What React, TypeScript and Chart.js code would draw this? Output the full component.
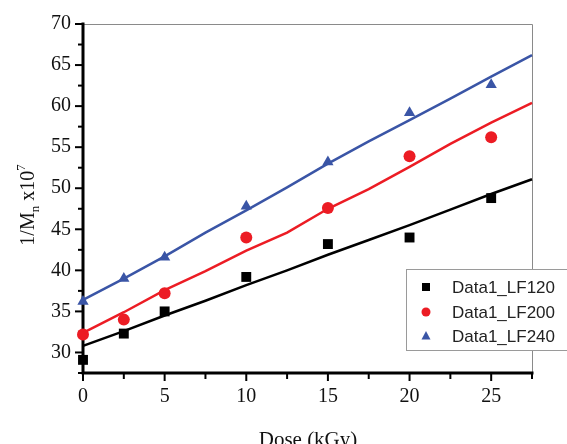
import React, { useEffect, useRef } from "react";
import { Chart, registerables } from "chart.js";
Chart.register(...registerables);

const doses = [0, 2.5, 5, 10, 15, 20, 25];
const lf120 = [29.1, 32.3, 35.0, 39.2, 43.2, 44.0, 48.8];
const lf200 = [32.2, 34.0, 37.2, 44.0, 47.6, 53.9, 56.2];
const lf240 = [36.2, 39.0, 41.6, 47.8, 53.2, 59.2, 62.6];

const fitX = [0, 2.5, 5, 7.5, 10, 12.5, 15, 17.5, 20, 22.5, 25, 27.5];
const fit120 = [30.8, 32.6, 34.5, 36.3, 38.2, 40.0, 41.9, 43.7, 45.5, 47.4, 49.3, 51.1];
const fit200 = [32.4, 34.9, 37.6, 39.9, 42.4, 44.6, 47.5, 49.9, 52.6, 55.4, 58.0, 60.4];
const fit240 = [36.4, 39.0, 41.7, 44.6, 47.3, 50.1, 53.0, 55.7, 58.3, 60.9, 63.6, 66.2];

const seriesNames = ["Data1_LF120", "Data1_LF200", "Data1_LF240"];
const seriesColors = ["#000000", "#ec1c24", "#3a55a6"];
const seriesStyles = ["rect", "circle", "triangle"];

const xTitle = "Dose (kGy)";
const yTickLabels = [30, 35, 40, 45, 50, 55, 60, 65, 70];
const xTickLabels = [0, 5, 10, 15, 20, 25];

const pts = (xs: number[], ys: number[]) => xs.map((x, i) => ({ x, y: ys[i] }));

const isMajor = (v: number) => Math.abs(v / 5 - Math.round(v / 5)) < 1e-6;

const decorPlugin = {
  id: "decor",
  beforeDatasetsDraw(chart: any) {
    const { ctx, chartArea, scales } = chart;
    const xs = scales.x;
    const ys = scales.y;
    ctx.save();
    ctx.strokeStyle = "#8a8a8a";
    ctx.lineWidth = 1;
    ctx.beginPath();
    ctx.moveTo(chartArea.left, chartArea.top + 0.5);
    ctx.lineTo(chartArea.right + 0.5, chartArea.top + 0.5);
    ctx.lineTo(chartArea.right + 0.5, chartArea.bottom);
    ctx.stroke();
    ctx.strokeStyle = "#000";
    ctx.lineWidth = 3;
    ctx.lineCap = "square";
    ctx.beginPath();
    ctx.moveTo(chartArea.left, chartArea.top);
    ctx.lineTo(chartArea.left, chartArea.bottom);
    ctx.lineTo(chartArea.right, chartArea.bottom);
    ctx.stroke();
    ctx.lineCap = "butt";
    ctx.lineWidth = 2;
    ys.ticks.forEach((t: any) => {
      const p = ys.getPixelForValue(t.value);
      const len = isMajor(t.value) ? 8 : 5;
      ctx.beginPath();
      ctx.moveTo(chartArea.left - len, p);
      ctx.lineTo(chartArea.left, p);
      ctx.stroke();
    });
    xs.ticks.forEach((t: any) => {
      const p = xs.getPixelForValue(t.value);
      const len = isMajor(t.value) ? 8 : 6;
      ctx.beginPath();
      ctx.moveTo(p, chartArea.bottom);
      ctx.lineTo(p, chartArea.bottom + len);
      ctx.stroke();
    });
    ctx.restore();
  },
  afterDraw(chart: any) {
    const { ctx } = chart;
    ctx.save();
    ctx.fillStyle = "#111";
    ctx.font = "21px 'Liberation Serif', 'Times New Roman', serif";
    ctx.textAlign = "center";
    ctx.textBaseline = "alphabetic";
    ctx.fillText(xTitle, 308, 446);
    ctx.translate(34, 205);
    ctx.rotate(-Math.PI / 2);
    const big = "20px 'Liberation Serif', 'Times New Roman', serif";
    const small = "13px 'Liberation Serif', 'Times New Roman', serif";
    const parts = [
      { t: "1/M", f: big, dy: 0 },
      { t: "n", f: small, dy: 5 },
      { t: " x10", f: big, dy: 0 },
      { t: "7", f: small, dy: -9 },
    ];
    let total = 0;
    parts.forEach((p) => {
      ctx.font = p.f;
      total += ctx.measureText(p.t).width;
    });
    let x = -total / 2;
    ctx.textAlign = "left";
    parts.forEach((p) => {
      ctx.font = p.f;
      ctx.fillText(p.t, x, p.dy);
      x += ctx.measureText(p.t).width;
    });
    ctx.restore();

    ctx.save();
    const lx = 406.5, ly = 269.5, lw = 200, lh = 81;
    ctx.fillStyle = "#fff";
    ctx.fillRect(lx, ly, lw, lh);
    ctx.strokeStyle = "#9a9a9a";
    ctx.lineWidth = 1;
    ctx.strokeRect(lx, ly, lw, lh);
    const rows = [287, 312, 336];
    ctx.font = "17px 'Liberation Sans', Arial, sans-serif";
    ctx.textBaseline = "middle";
    ctx.textAlign = "left";
    seriesNames.forEach((name, i) => {
      const cy = rows[i];
      const cx = 426;
      ctx.fillStyle = seriesColors[i];
      ctx.beginPath();
      if (seriesStyles[i] === "rect") {
        ctx.rect(cx - 4, cy - 4, 8, 8);
      } else if (seriesStyles[i] === "circle") {
        ctx.arc(cx, cy, 4.5, 0, Math.PI * 2);
      } else {
        ctx.moveTo(cx, cy - 5);
        ctx.lineTo(cx + 4.5, cy + 3.5);
        ctx.lineTo(cx - 4.5, cy + 3.5);
        ctx.closePath();
      }
      ctx.fill();
      ctx.fillStyle = "#222";
      ctx.fillText(name, 452, cy + 1);
    });
    ctx.restore();
  },
};

export default function App() {
  const ref = useRef<HTMLCanvasElement | null>(null);
  useEffect(() => {
    if (!ref.current) return;
    const tickFont = { family: "'Liberation Serif', 'Times New Roman', serif", size: 20 };
    const datasets: any[] = [];
    const fits = [fit120, fit200, fit240];
    const vals = [lf120, lf200, lf240];
    const radii = [7, 6, 6.5];
    fits.forEach((f, i) => {
      datasets.push({
        type: "line",
        label: seriesNames[i] + " fit",
        data: pts(fitX, f),
        borderColor: seriesColors[i],
        borderWidth: 2.5,
        pointRadius: 0,
        fill: false,
        tension: 0,
        clip: false,
      });
    });
    vals.forEach((v, i) => {
      datasets.push({
        type: "scatter",
        label: seriesNames[i],
        data: pts(doses, v),
        backgroundColor: seriesColors[i],
        borderColor: seriesColors[i],
        borderWidth: 0,
        pointStyle: seriesStyles[i],
        pointRadius: radii[i],
        showLine: false,
        clip: false,
      });
    });
    const chart = new Chart(ref.current, {
      type: "scatter",
      data: { datasets },
      plugins: [decorPlugin],
      options: {
        responsive: false,
        animation: false,
        layout: { padding: { left: 0, top: 20, right: 35, bottom: 0 } },
        plugins: { legend: { display: false }, tooltip: { enabled: false } },
        scales: {
          x: {
            type: "linear",
            min: 0,
            max: 27.5,
            grid: { display: false, drawTicks: false },
            border: { display: false },
            ticks: {
              stepSize: 2.5,
              autoSkip: false,
              maxRotation: 0,
              padding: 12,
              color: "#111",
              font: tickFont,
              callback: (v: any) => (xTickLabels.includes(Number(v)) ? String(v) : ""),
            },
            afterFit: (s: any) => {
              s.height = 71;
            },
          },
          y: {
            type: "linear",
            min: 27.5,
            max: 70,
            grid: { display: false, drawTicks: false },
            border: { display: false },
            ticks: {
              stepSize: 2.5,
              autoSkip: false,
              padding: 12,
              color: "#111",
              font: tickFont,
              callback: (v: any) => (yTickLabels.includes(Number(v)) ? String(v) : ""),
            },
            afterFit: (s: any) => {
              s.width = 83;
            },
          },
        },
      },
    });
    return () => chart.destroy();
  }, []);
  return (
    <div style={{ position: "absolute", left: 0, top: 0, width: 567, height: 444, background: "#fff" }}>
      <canvas ref={ref} width={567} height={444} style={{ display: "block" }} />
    </div>
  );
}
